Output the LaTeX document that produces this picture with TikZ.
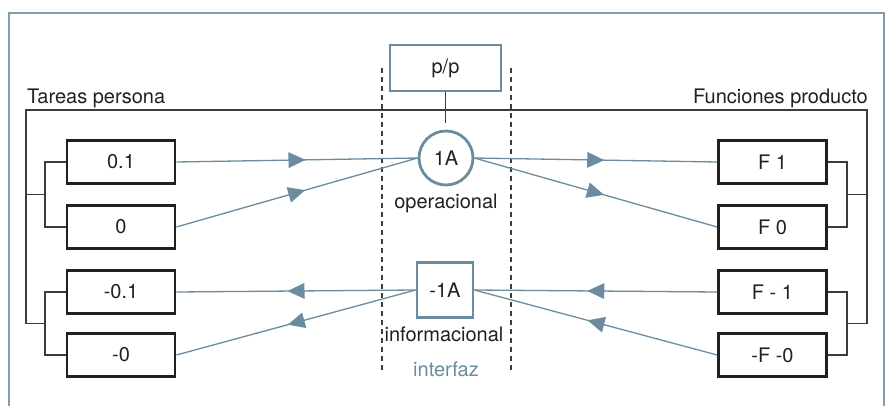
\documentclass[tikz,border=0pt]{standalone}
\usepackage{fontspec}
\setmainfont{TeX Gyre Heros}
\usetikzlibrary{decorations.markings}
\definecolor{steel}{RGB}{106,140,158}
\definecolor{framec}{RGB}{128,158,174}
\definecolor{ink}{RGB}{35,31,32}
\definecolor{bracketc}{RGB}{60,60,60}
\tikzset{
  txt/.style={font=\fontsize{20}{23}\selectfont, text=ink, inner sep=0pt},
  itembox/.style={draw=ink, line width=2.8pt, minimum width=108pt, minimum height=43pt,
    inner sep=0pt, font=\fontsize{20}{23}\selectfont, text=ink},
  bluebox/.style={draw=steel, line width=2.8pt, inner sep=0pt,
    font=\fontsize{20}{23}\selectfont, text=ink, fill=white},
  bracket/.style={draw=bracketc, line width=1.3pt},
  link/.style={draw=steel, line width=1.3pt, postaction={decorate},
    decoration={markings, mark=at position 0.5 with {\fill[steel] (8.5pt,0pt) -- (-8.5pt,8pt) -- (-8.5pt,-8pt) -- cycle;}}},
  divider/.style={draw=bracketc, line width=1.3pt, dash pattern=on 5pt off 4pt}
}
\begin{document}
\begin{tikzpicture}[x=1pt, y=-1pt]
\useasboundingbox (0,0) rectangle (886,406);
% outer frame, open at the bottom edge
\draw[framec, line width=1.5pt] (9,406) -- (9,13) -- (884,13) -- (884,406);

% interface band
\draw[divider] (382,68) -- (382,372);
\draw[divider] (511,68) -- (511,372);

% person tasks (left) and product functions (right)
\node[itembox] (l1) at (121,162) {0.1};
\node[itembox] (l2) at (121,227) {0};
\node[itembox] (l3) at (121,292) {-0.1};
\node[itembox] (l4) at (121,355) {-0};
\node[itembox] (r1) at (772.5,162) {F 1};
\node[itembox] (r2) at (772.5,227) {F 0};
\node[itembox] (r3) at (772.5,292) {F - 1};
\node[itembox] (r4) at (772.5,355) {-F -0};

% group labels
\node[txt, anchor=base west] (tp) at (27,104) {Tareas persona};
\node[txt, anchor=base east] (fp) at (868,104) {Funciones producto};

% central elements
\node[bluebox, minimum width=111pt, minimum height=46pt] (pp) at (445.5,68) {p/p};
\node[bluebox, circle, minimum size=54pt] (op) at (446,158) {1A};
\node[bluebox, minimum width=56pt, minimum height=55pt] (inf) at (445,290) {-1A};
\node[txt, anchor=base] (opl) at (446,208) {operacional};
\node[txt, anchor=base] (infl) at (444,341) {informacional};
\node[txt, anchor=base, text=steel] (itf) at (446,376) {interfaz};

% main bracket spanning both sides
\coordinate (tl) at (26,110);
\coordinate (tr) at (867,110);
\draw[bracket] (26,324) -- (tl) -- (tr) -- (867,324);
\coordinate (ppend) at (445.5,123);
\draw[bracket] (pp.south) -- (ppend);

% left sub-brackets
\draw[bracket] (l1.west) -- (45,162) -- (45,227) -- (l2.west);
\draw[bracket] (l3.west) -- (45,292) -- (45,355) -- (l4.west);
\draw[bracket] (45,194.5) -- (26,194.5);
\draw[bracket] (45,323.5) -- (26,323.5);
% right sub-brackets
\draw[bracket] (r1.east) -- (847,162) -- (847,227) -- (r2.east);
\draw[bracket] (r3.east) -- (847,292) -- (847,355) -- (r4.east);
\draw[bracket] (847,194.5) -- (867,194.5);
\draw[bracket] (847,323.5) -- (867,323.5);

% operational flow
\draw[link] (l1.east) -- (op.west);
\draw[link] (l2.east) -- (op.west);
\draw[link] (op.east) -- (r1.west);
\draw[link] (op.east) -- (r2.west);
% informational flow
\draw[link] (inf.west) -- (l3.east);
\draw[link] (inf.west) -- (l4.east);
\draw[link] (r3.west) -- (inf.east);
\draw[link] (r4.west) -- (inf.east);
\end{tikzpicture}
\end{document}
